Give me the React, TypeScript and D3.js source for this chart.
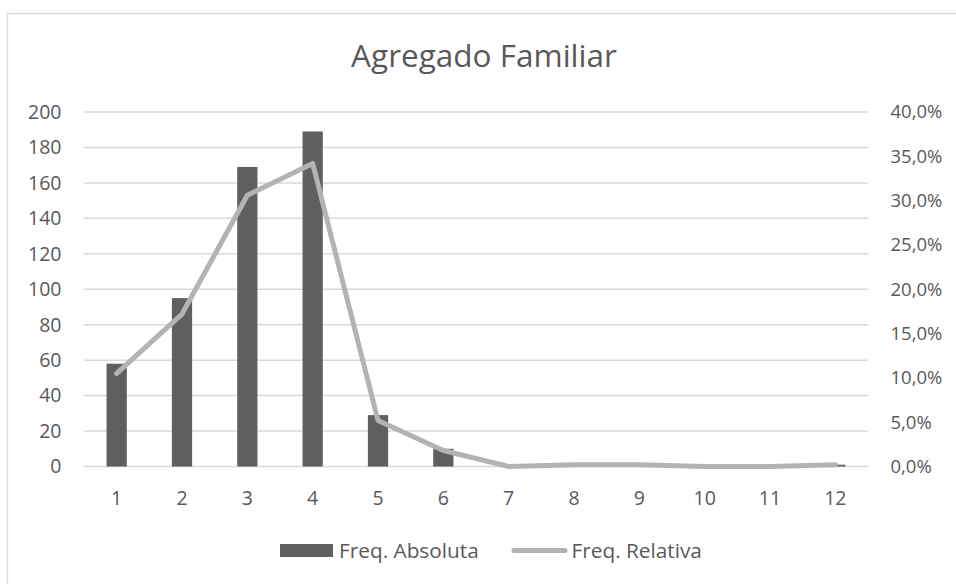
import React from "react";
import * as d3 from "d3";

const categories = ["1", "2", "3", "4", "5", "6", "7", "8", "9", "10", "11", "12"];
const freqAbsoluta = [58, 95, 169, 189, 29, 10, 0, 1, 1, 0, 0, 1];
const freqRelativa = [10.5, 17.2, 30.6, 34.2, 5.2, 1.8, 0, 0.2, 0.2, 0, 0, 0.2];
const leftTicks = [0, 20, 40, 60, 80, 100, 120, 140, 160, 180, 200];
const rightTicks = [0, 5, 10, 15, 20, 25, 30, 35, 40];
const title = "Agregado Familiar";
const seriesNames = ["Freq. Absoluta", "Freq. Relativa"];

const W = 956;
const H = 584;
const FONT = "'Open Sans', Calibri, sans-serif";
const TXT = "#595959";
const BAR = "#5f5f5f";
const LINE = "#b3b3b3";
const GRID = "#d9d9d9";

export default function App() {
  const plot = { left: 84, right: 868, top: 112, bottom: 466.5 };
  const x = d3.scaleBand<string>().domain(categories).range([plot.left, plot.right]).padding(0);
  const yL = d3.scaleLinear().domain([0, 200]).range([plot.bottom, plot.top]);
  const yR = d3.scaleLinear().domain([0, 40]).range([plot.bottom, plot.top]);
  const bw = x.bandwidth() * 0.31;
  const cx = (c: string) => (x(c) as number) + x.bandwidth() / 2;
  const fmtPct = (v: number) => v.toFixed(1).replace(".", ",") + "%";
  const line = d3
    .line<number>()
    .x((_, i) => cx(categories[i]))
    .y((d) => yR(d));

  return (
    <svg width={W} height={H} style={{ position: "absolute", left: 0, top: 0, background: "#fff" }} fontFamily={FONT}>
      <rect x={0} y={0} width={W} height={H} fill="#fff" />
      <path d={`M7.5,${H} V13.5 H${W}`} fill="none" stroke={GRID} strokeWidth={1.3} />
      <text x={484} y={67} textAnchor="middle" fontSize={31.5} fill={TXT}>
        {title}
      </text>
      {leftTicks.map((t) => (
        <line key={"g" + t} x1={plot.left} x2={plot.right} y1={yL(t)} y2={yL(t)} stroke={GRID} strokeWidth={1.5} />
      ))}
      {leftTicks.map((t) => (
        <text key={"l" + t} x={61.5} y={yL(t)} dy="0.35em" textAnchor="end" fontSize={19.5} fill={TXT}>
          {t}
        </text>
      ))}
      {rightTicks.map((t) => (
        <text key={"r" + t} x={890.5} y={yR(t)} dy="0.35em" textAnchor="start" fontSize={18.5} fill={TXT}>
          {fmtPct(t)}
        </text>
      ))}
      {categories.map((c, i) => (
        <rect key={"b" + c} x={cx(c) - bw / 2} width={bw} y={yL(freqAbsoluta[i])} height={yL(0) - yL(freqAbsoluta[i])} fill={BAR} />
      ))}
      <path d={line(freqRelativa) || ""} fill="none" stroke={LINE} strokeWidth={5} strokeLinejoin="round" strokeLinecap="round" />
      {categories.map((c) => (
        <text key={"x" + c} x={cx(c)} y={498} dy="0.35em" textAnchor="middle" fontSize={19.5} fill={TXT}>
          {c}
        </text>
      ))}
      <rect x={280} y={544} width={53} height={13} fill={BAR} />
      <text x={339} y={550.5} dy="0.35em" fontSize={20.8} fill={TXT}>
        {seriesNames[0]}
      </text>
      <line x1={514} x2={565} y1={550.5} y2={550.5} stroke={LINE} strokeWidth={5} strokeLinecap="round" />
      <text x={571.5} y={550.5} dy="0.35em" fontSize={20.8} fill={TXT}>
        {seriesNames[1]}
      </text>
    </svg>
  );
}
